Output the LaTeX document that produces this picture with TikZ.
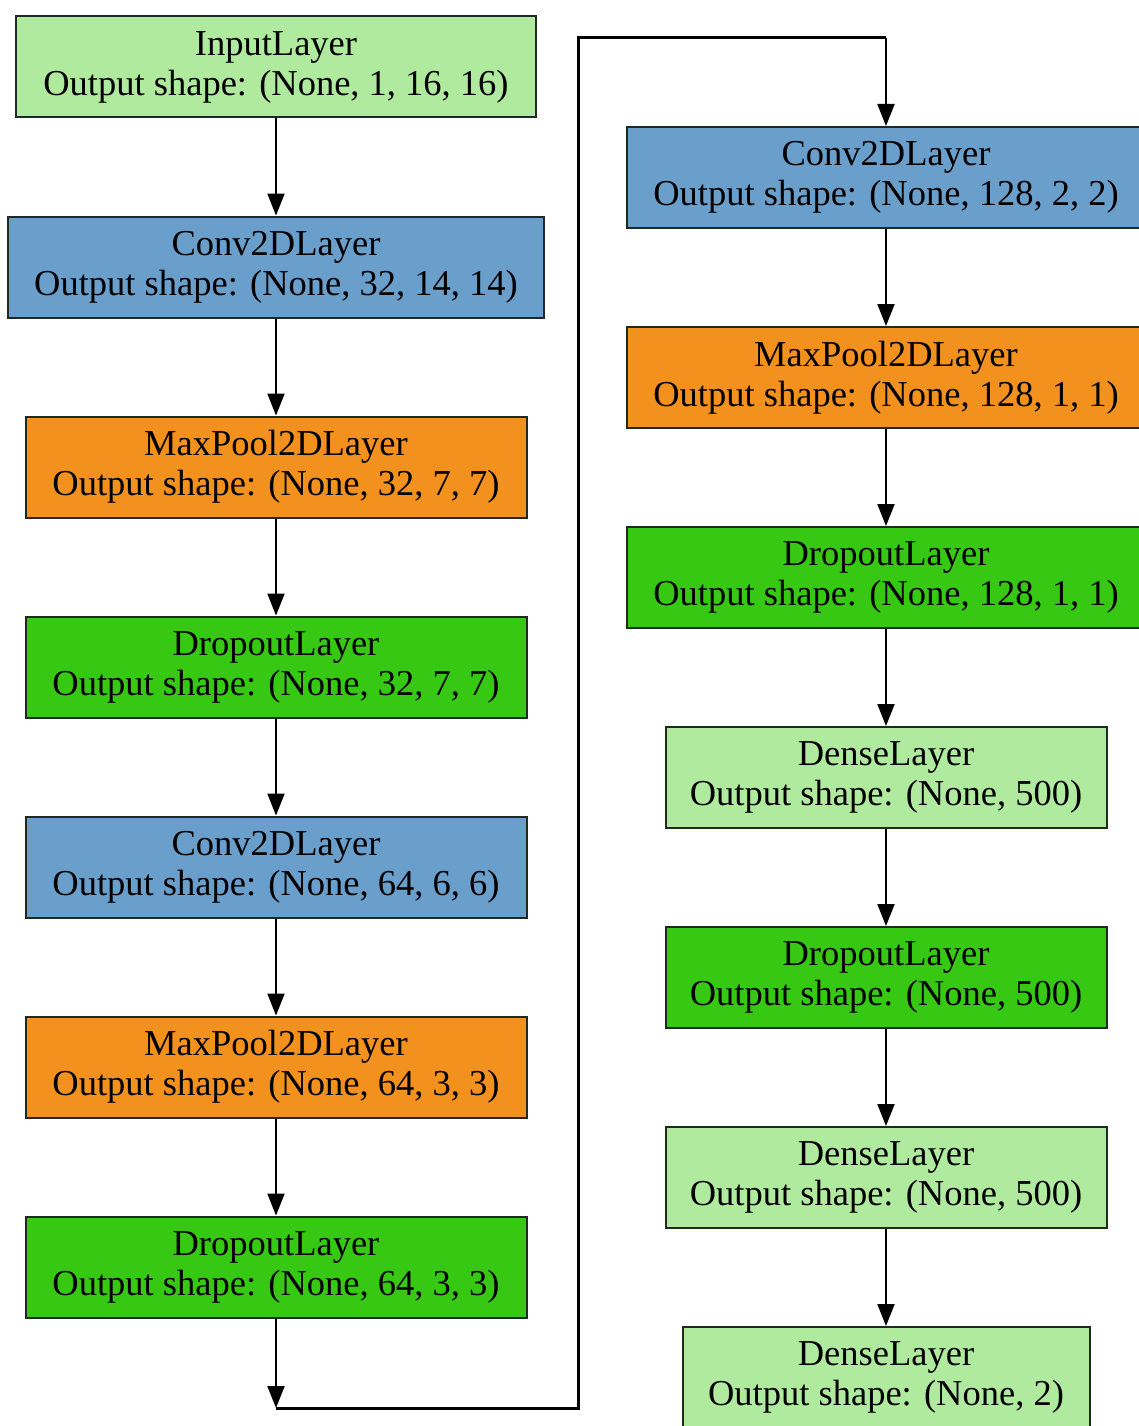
\documentclass[tikz,border=0pt]{standalone}
\usepackage{fontspec}
\setmainfont{Liberation Serif}
\usetikzlibrary{arrows.meta}
\definecolor{cLight}{HTML}{AFEA9E}
\definecolor{cBlue}{HTML}{6A9FCC}
\definecolor{cOrange}{HTML}{F2911E}
\definecolor{cGreen}{HTML}{37C814}
\definecolor{cBorder}{HTML}{1E2A1E}
\begin{document}
\begin{tikzpicture}[x=1pt,y=-1pt,
  layer/.style={draw=cBorder,line width=2pt,inner sep=0pt,align=center,
    minimum height=101pt,font=\fontsize{36.5}{40}\selectfont,text=black},
  inl/.style={layer,fill=cLight},
  conv/.style={layer,fill=cBlue},
  pool/.style={layer,fill=cOrange},
  drop/.style={layer,fill=cGreen},
  dens/.style={layer,fill=cLight},
  arr/.style={line width=2pt,-{Triangle[length=22pt,width=17pt]}},
  route/.style={line width=3pt}]
\useasboundingbox (0,0) rectangle (1139,1426);
\fill[white] (0,0) rectangle (1139,1426);
% left column
\node[inl,minimum width=520pt]  (in)  at (276,67)   {InputLayer\\Output shape: (None, 1, 16, 16)};
\node[conv,minimum width=536pt] (c1)  at (276,267)  {Conv2DLayer\\Output shape: (None, 32, 14, 14)};
\node[pool,minimum width=501pt] (p1)  at (276,467)  {MaxPool2DLayer\\Output shape: (None, 32, 7, 7)};
\node[drop,minimum width=501pt] (d1)  at (276,667)  {DropoutLayer\\Output shape: (None, 32, 7, 7)};
\node[conv,minimum width=501pt] (c2)  at (276,867)  {Conv2DLayer\\Output shape: (None, 64, 6, 6)};
\node[pool,minimum width=501pt] (p2)  at (276,1067) {MaxPool2DLayer\\Output shape: (None, 64, 3, 3)};
\node[drop,minimum width=501pt] (d2)  at (276,1267) {DropoutLayer\\Output shape: (None, 64, 3, 3)};
% right column
\node[conv,minimum width=518pt] (c3)  at (886,177.5) {Conv2DLayer\\Output shape: (None, 128, 2, 2)};
\node[pool,minimum width=518pt] (p3)  at (886,377.5) {MaxPool2DLayer\\Output shape: (None, 128, 1, 1)};
\node[drop,minimum width=518pt] (d3)  at (886,577.5) {DropoutLayer\\Output shape: (None, 128, 1, 1)};
\node[dens,minimum width=441pt] (e1)  at (886,777.5) {DenseLayer\\Output shape: (None, 500)};
\node[drop,minimum width=441pt] (d4)  at (886,977.5) {DropoutLayer\\Output shape: (None, 500)};
\node[dens,minimum width=441pt] (e2)  at (886,1177.5) {DenseLayer\\Output shape: (None, 500)};
\node[dens,minimum width=407pt] (e3)  at (886,1377.5) {DenseLayer\\Output shape: (None, 2)};
% connectors
\draw[arr] (in) -- (c1);
\draw[arr] (c1) -- (p1);
\draw[arr] (p1) -- (d1);
\draw[arr] (d1) -- (c2);
\draw[arr] (c2) -- (p2);
\draw[arr] (p2) -- (d2);
\coordinate (t1) at (276,1408);
\coordinate (t2) at (578,1408);
\coordinate (t3) at (578,38);
\coordinate (t4) at (886,38);
\draw[arr] (d2) -- (t1);
\draw[route] (t1) -- (t2) -- (t3) -- (t4);
\draw[arr] (t4) -- (c3);
\draw[arr] (c3) -- (p3);
\draw[arr] (p3) -- (d3);
\draw[arr] (d3) -- (e1);
\draw[arr] (e1) -- (d4);
\draw[arr] (d4) -- (e2);
\draw[arr] (e2) -- (e3);
\end{tikzpicture}
\end{document}
